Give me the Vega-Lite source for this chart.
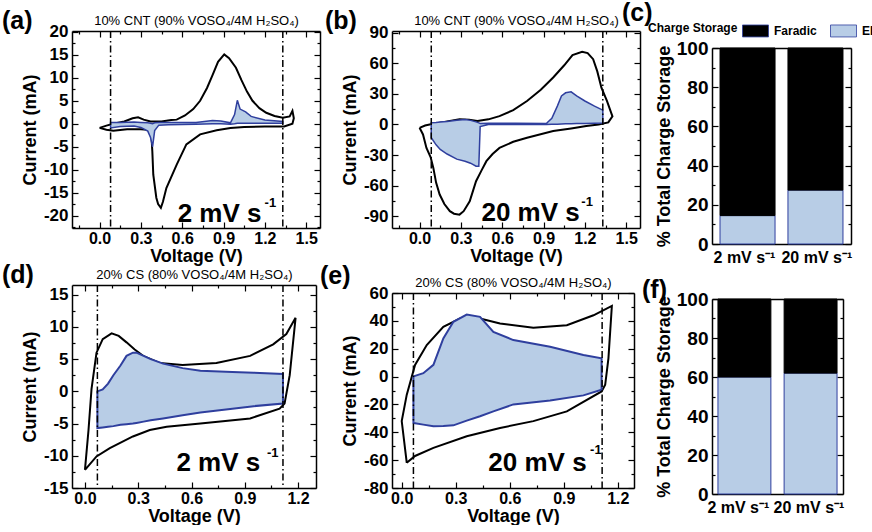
{
"$schema": "https://vega.github.io/schema/vega-lite/v6.json",
"background": "white",
"padding": {"left": 2, "top": 1, "right": 0, "bottom": 0},
"bounds": "flush",
"spacing": 320,
"resolve": {"scale": {"fill": "independent"}, "legend": {"fill": "independent"}},
"datasets": {
"a_cv": [{"i":1,"v":0.0,"c":-0.9},{"i":2,"v":0.05,"c":-0.4},{"i":3,"v":0.1,"c":0.0},{"i":4,"v":0.18,"c":0.5},{"i":5,"v":0.24,"c":1.2},{"i":6,"v":0.28,"c":1.4},{"i":7,"v":0.32,"c":0.9},{"i":8,"v":0.37,"c":0.5},{"i":9,"v":0.45,"c":0.5},{"i":10,"v":0.52,"c":0.8},{"i":11,"v":0.56,"c":0.9},{"i":12,"v":0.62,"c":1.8},{"i":13,"v":0.68,"c":3.2},{"i":14,"v":0.73,"c":5.0},{"i":15,"v":0.78,"c":7.8},{"i":16,"v":0.82,"c":10.6},{"i":17,"v":0.86,"c":13.5},{"i":18,"v":0.905,"c":15.1},{"i":19,"v":0.94,"c":14.3},{"i":20,"v":0.99,"c":12.2},{"i":21,"v":1.03,"c":9.5},{"i":22,"v":1.07,"c":7.0},{"i":23,"v":1.11,"c":5.0},{"i":24,"v":1.16,"c":3.4},{"i":25,"v":1.21,"c":2.4},{"i":26,"v":1.27,"c":1.7},{"i":27,"v":1.33,"c":1.3},{"i":28,"v":1.38,"c":1.6},{"i":29,"v":1.4,"c":2.8},{"i":30,"v":1.41,"c":1.2},{"i":31,"v":1.4,"c":0.0},{"i":32,"v":1.34,"c":-0.6},{"i":33,"v":1.2,"c":-0.6},{"i":34,"v":1.05,"c":-0.7},{"i":35,"v":0.95,"c":-0.9},{"i":36,"v":0.85,"c":-1.4},{"i":37,"v":0.73,"c":-2.3},{"i":38,"v":0.63,"c":-4.5},{"i":39,"v":0.56,"c":-8.9},{"i":40,"v":0.485,"c":-14.0},{"i":41,"v":0.46,"c":-17.0},{"i":42,"v":0.445,"c":-18.3},{"i":43,"v":0.425,"c":-17.5},{"i":44,"v":0.412,"c":-16.1},{"i":45,"v":0.39,"c":-11.1},{"i":46,"v":0.383,"c":-6.0},{"i":47,"v":0.376,"c":-2.3},{"i":48,"v":0.35,"c":-1.3},{"i":49,"v":0.3,"c":-1.2},{"i":50,"v":0.2,"c":-1.2},{"i":51,"v":0.1,"c":-1.5},{"i":52,"v":0.05,"c":-1.3},{"i":53,"v":0.0,"c":-0.9}],
"a_ed": [{"v":0.08,"hi":0.3,"lo":-0.9},{"v":0.15,"hi":0.3,"lo":-0.6},{"v":0.25,"hi":0.4,"lo":-0.5},{"v":0.3,"hi":0.3,"lo":-0.8},{"v":0.35,"hi":0.2,"lo":-1.6},{"v":0.37,"hi":0.1,"lo":-3.0},{"v":0.385,"hi":0.0,"lo":-5.0},{"v":0.4,"hi":0.2,"lo":-1.5},{"v":0.43,"hi":0.3,"lo":-0.3},{"v":0.5,"hi":0.3,"lo":-0.2},{"v":0.7,"hi":0.3,"lo":-0.1},{"v":0.82,"hi":0.7,"lo":0.0},{"v":0.88,"hi":0.6,"lo":0.0},{"v":0.95,"hi":0.2,"lo":-0.1},{"v":0.98,"hi":2.0,"lo":0.0},{"v":1.0,"hi":5.1,"lo":0.1},{"v":1.02,"hi":3.2,"lo":0.1},{"v":1.06,"hi":2.6,"lo":0.1},{"v":1.1,"hi":1.6,"lo":0.1},{"v":1.2,"hi":0.8,"lo":0.1},{"v":1.33,"hi":0.5,"lo":0.1}],
"b_cv": [{"i":1,"v":0.0,"c":-3.3},{"i":2,"v":0.04,"c":-1.0},{"i":3,"v":0.09,"c":0.5},{"i":4,"v":0.18,"c":2.5},{"i":5,"v":0.29,"c":5.0},{"i":6,"v":0.36,"c":4.5},{"i":7,"v":0.42,"c":3.5},{"i":8,"v":0.5,"c":5.0},{"i":9,"v":0.58,"c":8.2},{"i":10,"v":0.68,"c":14.0},{"i":11,"v":0.78,"c":23.0},{"i":12,"v":0.88,"c":34.0},{"i":13,"v":0.97,"c":46.0},{"i":14,"v":1.05,"c":58.0},{"i":15,"v":1.11,"c":68.0},{"i":16,"v":1.18,"c":71.3},{"i":17,"v":1.22,"c":70.0},{"i":18,"v":1.26,"c":64.0},{"i":19,"v":1.29,"c":52.0},{"i":20,"v":1.32,"c":36.0},{"i":21,"v":1.36,"c":23.0},{"i":22,"v":1.4,"c":8.0},{"i":23,"v":1.37,"c":2.0},{"i":24,"v":1.3,"c":0.0},{"i":25,"v":1.21,"c":-1.6},{"i":26,"v":1.1,"c":-4.0},{"i":27,"v":0.97,"c":-6.5},{"i":28,"v":0.78,"c":-13.0},{"i":29,"v":0.68,"c":-17.0},{"i":30,"v":0.58,"c":-23.0},{"i":31,"v":0.53,"c":-29.0},{"i":32,"v":0.485,"c":-36.0},{"i":33,"v":0.45,"c":-45.0},{"i":34,"v":0.41,"c":-55.6},{"i":35,"v":0.364,"c":-75.3},{"i":36,"v":0.32,"c":-85.0},{"i":37,"v":0.29,"c":-88.4},{"i":38,"v":0.25,"c":-87.5},{"i":39,"v":0.22,"c":-85.0},{"i":40,"v":0.18,"c":-78.0},{"i":41,"v":0.146,"c":-68.7},{"i":42,"v":0.12,"c":-57.0},{"i":43,"v":0.1,"c":-42.6},{"i":44,"v":0.08,"c":-32.0},{"i":45,"v":0.05,"c":-23.0},{"i":46,"v":0.025,"c":-9.8},{"i":47,"v":0.0,"c":-3.3}],
"b_ed": [{"v":0.085,"hi":1.6,"lo":-13},{"v":0.12,"hi":2.0,"lo":-20},{"v":0.15,"hi":2.5,"lo":-24.5},{"v":0.2,"hi":3.0,"lo":-29},{"v":0.27,"hi":4.0,"lo":-34},{"v":0.33,"hi":4.9,"lo":-36},{"v":0.37,"hi":4.0,"lo":-38},{"v":0.41,"hi":2.5,"lo":-41},{"v":0.43,"hi":1.5,"lo":-41},{"v":0.44,"hi":1.0,"lo":-2},{"v":0.5,"hi":1.2,"lo":0},{"v":0.7,"hi":1.2,"lo":0},{"v":0.92,"hi":1.0,"lo":0},{"v":0.96,"hi":6.0,"lo":0.2},{"v":1.0,"hi":18,"lo":0.3},{"v":1.03,"hi":28,"lo":0.5},{"v":1.06,"hi":31,"lo":0.6},{"v":1.1,"hi":32,"lo":0.8},{"v":1.14,"hi":28,"lo":1.0},{"v":1.2,"hi":23,"lo":1.0},{"v":1.27,"hi":18,"lo":1.2},{"v":1.33,"hi":14,"lo":1.5}],
"d_cv": [{"i":1,"v":0.0,"c":-12.2},{"i":2,"v":0.02,"c":-6.0},{"i":3,"v":0.037,"c":0.4},{"i":4,"v":0.065,"c":6.0},{"i":5,"v":0.1,"c":8.1},{"i":6,"v":0.15,"c":9.0},{"i":7,"v":0.19,"c":8.6},{"i":8,"v":0.234,"c":7.6},{"i":9,"v":0.28,"c":6.5},{"i":10,"v":0.327,"c":5.5},{"i":11,"v":0.42,"c":4.4},{"i":12,"v":0.55,"c":4.1},{"i":13,"v":0.74,"c":4.4},{"i":14,"v":0.93,"c":5.5},{"i":15,"v":1.06,"c":7.3},{"i":16,"v":1.134,"c":8.9},{"i":17,"v":1.186,"c":11.4},{"i":18,"v":1.153,"c":2.5},{"i":19,"v":1.124,"c":-1.9},{"i":20,"v":1.096,"c":-2.7},{"i":21,"v":0.93,"c":-4.2},{"i":22,"v":0.65,"c":-5.0},{"i":23,"v":0.46,"c":-5.5},{"i":24,"v":0.365,"c":-6.0},{"i":25,"v":0.27,"c":-7.0},{"i":26,"v":0.14,"c":-8.8},{"i":27,"v":0.065,"c":-10.1},{"i":28,"v":0.0,"c":-12.2}],
"d_ed": [{"v":0.07,"hi":0.0,"lo":-5.7},{"v":0.1,"hi":0.3,"lo":-5.6},{"v":0.13,"hi":1.2,"lo":-5.5},{"v":0.16,"hi":2.5,"lo":-5.4},{"v":0.2,"hi":4.0,"lo":-5.2},{"v":0.234,"hi":5.5,"lo":-5.1},{"v":0.27,"hi":6.0,"lo":-5.0},{"v":0.29,"hi":6.0,"lo":-4.9},{"v":0.33,"hi":5.5,"lo":-4.7},{"v":0.37,"hi":5.0,"lo":-4.5},{"v":0.44,"hi":4.3,"lo":-4.2},{"v":0.55,"hi":3.6,"lo":-3.7},{"v":0.65,"hi":3.2,"lo":-3.3},{"v":0.83,"hi":3.0,"lo":-2.7},{"v":0.95,"hi":2.9,"lo":-2.3},{"v":1.115,"hi":2.7,"lo":-1.9}],
"e_cv": [{"i":1,"v":0.028,"c":-61.9},{"i":2,"v":0.0,"c":-32},{"i":3,"v":0.028,"c":-13},{"i":4,"v":0.074,"c":8.4},{"i":5,"v":0.139,"c":22.6},{"i":6,"v":0.231,"c":35.7},{"i":7,"v":0.324,"c":41.7},{"i":8,"v":0.435,"c":41.7},{"i":9,"v":0.546,"c":38.1},{"i":10,"v":0.731,"c":35.0},{"i":11,"v":0.917,"c":36.9},{"i":12,"v":1.065,"c":44.0},{"i":13,"v":1.167,"c":50.7},{"i":14,"v":1.148,"c":13.1},{"i":15,"v":1.13,"c":-5.9},{"i":16,"v":1.11,"c":-10.7},{"i":17,"v":0.917,"c":-25.0},{"i":18,"v":0.731,"c":-32.0},{"i":19,"v":0.546,"c":-36.9},{"i":20,"v":0.361,"c":-42.8},{"i":21,"v":0.176,"c":-51.2},{"i":22,"v":0.074,"c":-57.0},{"i":23,"v":0.028,"c":-61.9}],
"e_ed": [{"v":0.065,"hi":0,"lo":-33.3},{"v":0.074,"hi":0.5,"lo":-33.5},{"v":0.12,"hi":2.4,"lo":-34.5},{"v":0.176,"hi":8.4,"lo":-35.7},{"v":0.231,"hi":27.4,"lo":-35.5},{"v":0.287,"hi":39.3,"lo":-35.0},{"v":0.361,"hi":44.5,"lo":-31.6},{"v":0.435,"hi":42.9,"lo":-28.5},{"v":0.509,"hi":32.1,"lo":-25.0},{"v":0.62,"hi":26.2,"lo":-20.0},{"v":0.824,"hi":21.4,"lo":-17.2},{"v":1.009,"hi":15.5,"lo":-13.5},{"v":1.11,"hi":13.1,"lo":-9.5}],
"win_a": [{"v":0.08},{"v":1.33}],
"win_b": [{"v":0.085},{"v":1.33}],
"win_d": [{"v":0.07},{"v":1.115}],
"win_e": [{"v":0.065},{"v":1.113}],
"bars_c": [{"rate":"2 mV s⁻¹","type":"EDLC","pct":14.5},{"rate":"2 mV s⁻¹","type":"Faradic","pct":85.5},{"rate":"20 mV s⁻¹","type":"EDLC","pct":27.5},{"rate":"20 mV s⁻¹","type":"Faradic","pct":72.5}],
"bars_f": [{"rate":"2 mV s⁻¹","type":"EDLC","pct":60},{"rate":"2 mV s⁻¹","type":"Faradic","pct":40},{"rate":"20 mV s⁻¹","type":"EDLC","pct":62},{"rate":"20 mV s⁻¹","type":"Faradic","pct":38}]
},
"hconcat": [
{
"bounds": "flush", "spacing": 0,
"vconcat": [
{
 "width": 248, "height": 197,
 "title": {"text": "(a)", "anchor": "start", "frame": "group", "orient": "top", "dx": -70, "dy": 40, "offset": 0, "fontSize": 25, "fontWeight": "bold", "baseline": "alphabetic"},
 "layer": [
  {"data": {"name": "a_cv"}, "mark": {"type": "line", "color": "black", "strokeWidth": 2},
   "encoding": {
    "x": {"field": "v", "type": "quantitative", "scale": {"domain": [-0.2, 1.6], "nice": false, "zero": false},
     "axis": {"orient": "bottom", "values": [-0.15,0,0.15,0.3,0.45,0.6,0.75,0.9,1.05,1.2,1.35,1.5], "labelExpr": "abs(round(datum.value*100)) % 30 == 0 ? format(datum.value, '.1f') : ''", "tickSize": {"condition": {"test": "abs(round(datum.value*100)) % 30 == 0", "value": -6}, "value": -3}, "labelPadding": 8, "title": "Voltage (V)", "titlePadding": -2}},
    "y": {"field": "c", "type": "quantitative", "scale": {"domain": [-22.7, 20.2], "nice": false, "zero": false},
     "axis": {"orient": "left", "values": [-22.5,-20,-17.5,-15,-12.5,-10,-7.5,-5,-2.5,0,2.5,5,7.5,10,12.5,15,17.5,20], "labelExpr": "abs(round(datum.value*10)) % 50 == 0 ? (datum.value < 0 ? '-' : '') + format(abs(datum.value), 'd') : ''", "tickSize": {"condition": {"test": "abs(round(datum.value*10)) % 50 == 0", "value": -6}, "value": -3}, "labelPadding": 10, "labelFontSize": 17, "title": "Current (mA)", "titlePadding": 4}},
    "order": {"field": "i", "type": "quantitative"}}},
  {"data": {"name": "a_ed"}, "mark": {"type": "area", "fill": "#b8cde6", "stroke": "#2f3f9e", "strokeWidth": 1.5},
   "encoding": {
    "x": {"field": "v", "type": "quantitative", "axis": {"orient": "top", "values": [-0.15,0,0.15,0.3,0.45,0.6,0.75,0.9,1.05,1.2,1.35,1.5], "labels": false, "tickSize": {"condition": {"test": "abs(round(datum.value*100)) % 30 == 0", "value": -6}, "value": -3}, "title": "10% CNT (90% VOSO₄/4M H₂SO₄)", "titleFontSize": 13, "titleFontWeight": "normal", "titlePadding": 3}},
    "y": {"field": "hi", "type": "quantitative", "axis": {"orient": "right", "values": [-22.5,-20,-17.5,-15,-12.5,-10,-7.5,-5,-2.5,0,2.5,5,7.5,10,12.5,15,17.5,20], "labels": false, "tickSize": {"condition": {"test": "abs(round(datum.value*10)) % 50 == 0", "value": -6}, "value": -3}, "title": null}},
    "y2": {"field": "lo"}}},
  {"data": {"name": "win_a"}, "mark": {"type": "rule", "color": "black", "strokeWidth": 1.5, "strokeDash": [7, 3, 1.5, 3]},
   "encoding": {"x": {"field": "v", "type": "quantitative", "axis": null}}},
  {"data": {"values": [{}]}, "mark": {"type": "text", "text": "2 mV s", "fontSize": 26, "fontWeight": "bold", "align": "left", "baseline": "alphabetic", "color": "black"},
   "encoding": {"x": {"datum": 0.567, "type": "quantitative", "axis": null}, "y": {"datum": -21.4, "type": "quantitative", "axis": null}}},
  {"data": {"values": [{}]}, "mark": {"type": "text", "text": "-1", "fontSize": 13, "fontWeight": "bold", "align": "left", "baseline": "alphabetic", "color": "black"},
   "encoding": {"x": {"datum": 1.198, "type": "quantitative", "axis": null}, "y": {"datum": -18.2, "type": "quantitative", "axis": null}}}
 ],
 "resolve": {"axis": {"x": "independent", "y": "independent"}}
},
{"width": 1, "height": 57, "data": {"values": [{}]}, "mark": {"type": "text", "text": ""}},
{
 "width": 244, "height": 203,
 "title": {"text": "(d)", "anchor": "start", "frame": "group", "orient": "top", "dx": -70, "dy": 40, "offset": 0, "fontSize": 25, "fontWeight": "bold", "baseline": "alphabetic"},
 "layer": [
  {"data": {"name": "d_cv"}, "mark": {"type": "line", "color": "black", "strokeWidth": 2},
   "encoding": {
    "x": {"field": "v", "type": "quantitative", "scale": {"domain": [-0.073, 1.301], "nice": false, "zero": false},
     "axis": {"orient": "bottom", "values": [0,0.15,0.3,0.45,0.6,0.75,0.9,1.05,1.2], "labelExpr": "abs(round(datum.value*100)) % 30 == 0 ? format(datum.value, '.1f') : ''", "tickSize": {"condition": {"test": "abs(round(datum.value*100)) % 30 == 0", "value": -6}, "value": -3}, "labelPadding": 8, "title": "Voltage (V)", "titlePadding": -2}},
    "y": {"field": "c", "type": "quantitative", "scale": {"domain": [-15, 16.5], "nice": false, "zero": false},
     "axis": {"orient": "left", "values": [-15,-12.5,-10,-7.5,-5,-2.5,0,2.5,5,7.5,10,12.5,15], "labelExpr": "abs(round(datum.value*10)) % 50 == 0 ? (datum.value < 0 ? '-' : '') + format(abs(datum.value), 'd') : ''", "tickSize": {"condition": {"test": "abs(round(datum.value*10)) % 50 == 0", "value": -6}, "value": -3}, "labelPadding": 10, "labelFontSize": 17, "title": "Current (mA)", "titlePadding": 4}},
    "order": {"field": "i", "type": "quantitative"}}},
  {"data": {"name": "d_ed"}, "mark": {"type": "area", "fill": "#b8cde6", "stroke": "#2f3f9e", "strokeWidth": 2},
   "encoding": {
    "x": {"field": "v", "type": "quantitative", "axis": {"orient": "top", "values": [0,0.15,0.3,0.45,0.6,0.75,0.9,1.05,1.2], "labels": false, "tickSize": {"condition": {"test": "abs(round(datum.value*100)) % 30 == 0", "value": -6}, "value": -3}, "title": "20% CS (80% VOSO₄/4M H₂SO₄)", "titleFontSize": 13, "titleFontWeight": "normal", "titlePadding": 3}},
    "y": {"field": "hi", "type": "quantitative", "axis": {"orient": "right", "values": [-15,-12.5,-10,-7.5,-5,-2.5,0,2.5,5,7.5,10,12.5,15], "labels": false, "tickSize": {"condition": {"test": "abs(round(datum.value*10)) % 50 == 0", "value": -6}, "value": -3}, "title": null}},
    "y2": {"field": "lo"}}},
  {"data": {"name": "win_d"}, "mark": {"type": "rule", "color": "black", "strokeWidth": 1.5, "strokeDash": [7, 3, 1.5, 3]},
   "encoding": {"x": {"field": "v", "type": "quantitative", "axis": null}}},
  {"data": {"values": [{}]}, "mark": {"type": "text", "text": "2 mV s", "fontSize": 26, "fontWeight": "bold", "align": "left", "baseline": "alphabetic", "color": "black"},
   "encoding": {"x": {"datum": 0.515, "type": "quantitative", "axis": null}, "y": {"datum": -12.3, "type": "quantitative", "axis": null}}},
  {"data": {"values": [{}]}, "mark": {"type": "text", "text": "-1", "fontSize": 13, "fontWeight": "bold", "align": "left", "baseline": "alphabetic", "color": "black"},
   "encoding": {"x": {"datum": 1.025, "type": "quantitative", "axis": null}, "y": {"datum": -10.2, "type": "quantitative", "axis": null}}}
 ],
 "resolve": {"axis": {"x": "independent", "y": "independent"}}
}
]
},
{
"bounds": "flush", "spacing": 0,
"vconcat": [
{
 "width": 248, "height": 197,
 "title": {"text": "(b)", "anchor": "start", "frame": "group", "orient": "top", "dx": -67, "dy": 40, "offset": 0, "fontSize": 25, "fontWeight": "bold", "baseline": "alphabetic"},
 "layer": [
  {"data": {"name": "b_cv"}, "mark": {"type": "line", "color": "black", "strokeWidth": 2},
   "encoding": {
    "x": {"field": "v", "type": "quantitative", "scale": {"domain": [-0.2, 1.6], "nice": false, "zero": false},
     "axis": {"orient": "bottom", "values": [-0.15,0,0.15,0.3,0.45,0.6,0.75,0.9,1.05,1.2,1.35,1.5], "labelExpr": "abs(round(datum.value*100)) % 30 == 0 ? format(datum.value, '.1f') : ''", "tickSize": {"condition": {"test": "abs(round(datum.value*100)) % 30 == 0", "value": -6}, "value": -3}, "labelPadding": 8, "title": "Voltage (V)", "titlePadding": -2}},
    "y": {"field": "c", "type": "quantitative", "scale": {"domain": [-101.5, 91.6], "nice": false, "zero": false},
     "axis": {"orient": "left", "values": [-90,-75,-60,-45,-30,-15,0,15,30,45,60,75,90], "labelExpr": "abs(datum.value) % 30 == 0 ? (datum.value < 0 ? '-' : '') + format(abs(datum.value), 'd') : ''", "tickSize": {"condition": {"test": "abs(datum.value) % 30 == 0", "value": -6}, "value": -3}, "labelPadding": 10, "labelFontSize": 17, "title": "Current (mA)", "titlePadding": 4}},
    "order": {"field": "i", "type": "quantitative"}}},
  {"data": {"name": "b_ed"}, "mark": {"type": "area", "fill": "#b8cde6", "stroke": "#2f3f9e", "strokeWidth": 1.5},
   "encoding": {
    "x": {"field": "v", "type": "quantitative", "axis": {"orient": "top", "values": [-0.15,0,0.15,0.3,0.45,0.6,0.75,0.9,1.05,1.2,1.35,1.5], "labels": false, "tickSize": {"condition": {"test": "abs(round(datum.value*100)) % 30 == 0", "value": -6}, "value": -3}, "title": "10% CNT (90% VOSO₄/4M H₂SO₄)", "titleFontSize": 13, "titleFontWeight": "normal", "titlePadding": 3}},
    "y": {"field": "hi", "type": "quantitative", "axis": {"orient": "right", "values": [-90,-75,-60,-45,-30,-15,0,15,30,45,60,75,90], "labels": false, "tickSize": {"condition": {"test": "abs(datum.value) % 30 == 0", "value": -6}, "value": -3}, "title": null}},
    "y2": {"field": "lo"}}},
  {"data": {"name": "win_b"}, "mark": {"type": "rule", "color": "black", "strokeWidth": 1.5, "strokeDash": [7, 3, 1.5, 3]},
   "encoding": {"x": {"field": "v", "type": "quantitative", "axis": null}}},
  {"data": {"values": [{}]}, "mark": {"type": "text", "text": "20 mV s", "fontSize": 26, "fontWeight": "bold", "align": "left", "baseline": "alphabetic", "color": "black"},
   "encoding": {"x": {"datum": 0.449, "type": "quantitative", "axis": null}, "y": {"datum": -94.9, "type": "quantitative", "axis": null}}},
  {"data": {"values": [{}]}, "mark": {"type": "text", "text": "-1", "fontSize": 13, "fontWeight": "bold", "align": "left", "baseline": "alphabetic", "color": "black"},
   "encoding": {"x": {"datum": 1.174, "type": "quantitative", "axis": null}, "y": {"datum": -80, "type": "quantitative", "axis": null}}}
 ],
 "resolve": {"axis": {"x": "independent", "y": "independent"}}
},
{"width": 1, "height": 65, "data": {"values": [{}]}, "mark": {"type": "text", "text": ""}},
{
 "width": 242, "height": 195,
 "title": {"text": "(e)", "anchor": "start", "frame": "group", "orient": "top", "dx": -72, "dy": 33, "offset": 0, "fontSize": 25, "fontWeight": "bold", "baseline": "alphabetic"},
 "layer": [
  {"data": {"name": "e_cv"}, "mark": {"type": "line", "color": "black", "strokeWidth": 2},
   "encoding": {
    "x": {"field": "v", "type": "quantitative", "scale": {"domain": [-0.054, 1.29], "nice": false, "zero": false},
     "axis": {"orient": "bottom", "values": [0,0.15,0.3,0.45,0.6,0.75,0.9,1.05,1.2], "labelExpr": "abs(round(datum.value*100)) % 30 == 0 ? format(datum.value, '.1f') : ''", "tickSize": {"condition": {"test": "abs(round(datum.value*100)) % 30 == 0", "value": -6}, "value": -3}, "labelPadding": 8, "title": "Voltage (V)", "titlePadding": -2}},
    "y": {"field": "c", "type": "quantitative", "scale": {"domain": [-80, 60], "nice": false, "zero": false},
     "axis": {"orient": "left", "values": [-80,-70,-60,-50,-40,-30,-20,-10,0,10,20,30,40,50,60], "labelExpr": "abs(datum.value) % 20 == 0 ? (datum.value < 0 ? '-' : '') + format(abs(datum.value), 'd') : ''", "tickSize": {"condition": {"test": "abs(datum.value) % 20 == 0", "value": -6}, "value": -3}, "labelPadding": 10, "labelFontSize": 17, "title": "Current (mA)", "titlePadding": 4}},
    "order": {"field": "i", "type": "quantitative"}}},
  {"data": {"name": "e_ed"}, "mark": {"type": "area", "fill": "#b8cde6", "stroke": "#2f3f9e", "strokeWidth": 2},
   "encoding": {
    "x": {"field": "v", "type": "quantitative", "axis": {"orient": "top", "values": [0,0.15,0.3,0.45,0.6,0.75,0.9,1.05,1.2], "labels": false, "tickSize": {"condition": {"test": "abs(round(datum.value*100)) % 30 == 0", "value": -6}, "value": -3}, "title": "20% CS (80% VOSO₄/4M H₂SO₄)", "titleFontSize": 13, "titleFontWeight": "normal", "titlePadding": 3}},
    "y": {"field": "hi", "type": "quantitative", "axis": {"orient": "right", "values": [-80,-70,-60,-50,-40,-30,-20,-10,0,10,20,30,40,50,60], "labels": false, "tickSize": {"condition": {"test": "abs(datum.value) % 20 == 0", "value": -6}, "value": -3}, "title": null}},
    "y2": {"field": "lo"}}},
  {"data": {"name": "win_e"}, "mark": {"type": "rule", "color": "black", "strokeWidth": 1.5, "strokeDash": [7, 3, 1.5, 3]},
   "encoding": {"x": {"field": "v", "type": "quantitative", "axis": null}}},
  {"data": {"values": [{}]}, "mark": {"type": "text", "text": "20 mV s", "fontSize": 26, "fontWeight": "bold", "align": "left", "baseline": "alphabetic", "color": "black"},
   "encoding": {"x": {"datum": 0.481, "type": "quantitative", "axis": null}, "y": {"datum": -67.7, "type": "quantitative", "axis": null}}},
  {"data": {"values": [{}]}, "mark": {"type": "text", "text": "-1", "fontSize": 13, "fontWeight": "bold", "align": "left", "baseline": "alphabetic", "color": "black"},
   "encoding": {"x": {"datum": 1.046, "type": "quantitative", "axis": null}, "y": {"datum": -55.9, "type": "quantitative", "axis": null}}}
 ],
 "resolve": {"axis": {"x": "independent", "y": "independent"}}
}
]
},
{
"bounds": "flush", "spacing": 0,
"resolve": {"scale": {"fill": "independent"}, "legend": {"fill": "independent"}},
"vconcat": [
{"width": 1, "height": 17, "data": {"values": [{}]}, "mark": {"type": "text", "text": ""}},
{
 "width": 139, "height": 196,
 "title": {"text": "(c)", "anchor": "start", "frame": "group", "orient": "top", "dx": -90, "dy": 29, "offset": 0, "fontSize": 25, "fontWeight": "bold", "baseline": "alphabetic"},
 "data": {"name": "bars_c"},
 "layer": [
  {"mark": {"type": "bar", "strokeWidth": 1},
   "encoding": {
    "x": {"field": "rate", "type": "nominal", "sort": null, "scale": {"paddingInner": 0.19, "paddingOuter": 0.118}, "axis": {"orient": "bottom", "title": null, "labelAngle": 0, "ticks": false, "labelPadding": 5, "labelFontSize": 16, "labelAlign": "left", "labelOffset": -34}},
    "y": {"field": "pct", "type": "quantitative", "stack": "zero", "scale": {"domain": [0, 100], "nice": false}, "axis": {"orient": "left", "values": [0,10,20,30,40,50,60,70,80,90,100], "labelExpr": "datum.value % 20 == 0 ? datum.label : ''", "tickSize": {"condition": {"test": "datum.value % 20 == 0", "value": -6}, "value": -3}, "labelPadding": 10, "labelFontSize": 19, "title": "% Total Charge Storage", "titlePadding": 3}},
    "fill": {"field": "type", "type": "nominal", "scale": {"domain": ["Faradic", "EDLC"], "range": ["black", "#b8cde6"]},
     "legend": {"orient": "none", "legendX": -64, "legendY": -31, "direction": "horizontal", "title": "Charge Storage", "titleOrient": "left", "titleAnchor": "middle", "titleBaseline": "middle", "titleFontSize": 12, "titleFontWeight": "bold", "titleColor": "black", "titlePadding": 4, "labelFontSize": 12, "labelFontWeight": "bold", "labelColor": "black", "symbolType": "M-1,-0.46H1V0.46H-1Z", "symbolSize": 676, "symbolStrokeColor": "#2f3f9e", "symbolStrokeWidth": 0.8, "symbolOpacity": 1, "labelOffset": 5, "columnPadding": 11, "padding": 0}},
    "stroke": {"condition": {"test": "datum.type == 'EDLC'", "value": "#2f3f9e"}, "value": "black"},
    "order": {"field": "type", "sort": "ascending"}}},
  {"mark": {"type": "bar", "opacity": 0},
   "encoding": {
    "x": {"field": "rate", "type": "nominal", "sort": null, "axis": {"orient": "top", "title": null, "labels": false, "ticks": false}},
    "y": {"field": "pct", "type": "quantitative", "stack": "zero", "axis": {"orient": "right", "values": [0,10,20,30,40,50,60,70,80,90,100], "labels": false, "tickSize": {"condition": {"test": "datum.value % 20 == 0", "value": -6}, "value": -3}, "title": null}},
    "order": {"field": "type", "sort": "ascending"}}}
 ],
 "resolve": {"axis": {"x": "independent", "y": "independent"}}
},
{"width": 1, "height": 55, "data": {"values": [{}]}, "mark": {"type": "text", "text": ""}},
{
 "width": 131, "height": 195,
 "title": {"text": "(f)", "anchor": "start", "frame": "group", "orient": "top", "dx": -70, "dy": 33, "offset": 0, "fontSize": 25, "fontWeight": "bold", "baseline": "alphabetic"},
 "data": {"name": "bars_f"},
 "layer": [
  {"mark": {"type": "bar", "strokeWidth": 1},
   "encoding": {
    "x": {"field": "rate", "type": "nominal", "sort": null, "scale": {"paddingInner": 0.2, "paddingOuter": 0.09}, "axis": {"orient": "bottom", "title": null, "labelAngle": 0, "ticks": false, "labelPadding": 5, "labelFontSize": 16, "labelAlign": "left", "labelOffset": -37}},
    "y": {"field": "pct", "type": "quantitative", "stack": "zero", "scale": {"domain": [0, 100], "nice": false}, "axis": {"orient": "left", "values": [0,10,20,30,40,50,60,70,80,90,100], "labelExpr": "datum.value % 20 == 0 ? datum.label : ''", "tickSize": {"condition": {"test": "datum.value % 20 == 0", "value": -6}, "value": -3}, "labelPadding": 10, "labelFontSize": 19, "title": "% Total Charge Storage", "titlePadding": 3}},
    "fill": {"field": "type", "type": "nominal", "scale": {"domain": ["Faradic", "EDLC"], "range": ["black", "#b8cde6"]}, "legend": null},
    "stroke": {"condition": {"test": "datum.type == 'EDLC'", "value": "#2f3f9e"}, "value": "black"},
    "order": {"field": "type", "sort": "ascending"}}},
  {"mark": {"type": "bar", "opacity": 0},
   "encoding": {
    "x": {"field": "rate", "type": "nominal", "sort": null, "axis": {"orient": "top", "title": null, "labels": false, "ticks": false}},
    "y": {"field": "pct", "type": "quantitative", "stack": "zero", "axis": {"orient": "right", "values": [0,10,20,30,40,50,60,70,80,90,100], "labels": false, "tickSize": {"condition": {"test": "datum.value % 20 == 0", "value": -6}, "value": -3}, "title": null}},
    "order": {"field": "type", "sort": "ascending"}}}
 ],
 "resolve": {"axis": {"x": "independent", "y": "independent"}}
}
]
}
],
"config": {
 "font": "Liberation Sans",
 "view": {"stroke": null},
 "axis": {"domainColor": "black", "domainWidth": 1.5, "tickColor": "black", "tickWidth": 1.2, "labelFont": "Liberation Sans", "labelFontSize": 16, "labelFontWeight": "bold", "labelColor": "black", "titleFont": "Liberation Sans", "titleFontSize": 18, "titleFontWeight": "bold", "titleColor": "black", "grid": false, "labelOverlap": false, "labelFlush": false, "labelBound": false},
 "title": {"color": "black", "font": "Liberation Sans"}
}
}
